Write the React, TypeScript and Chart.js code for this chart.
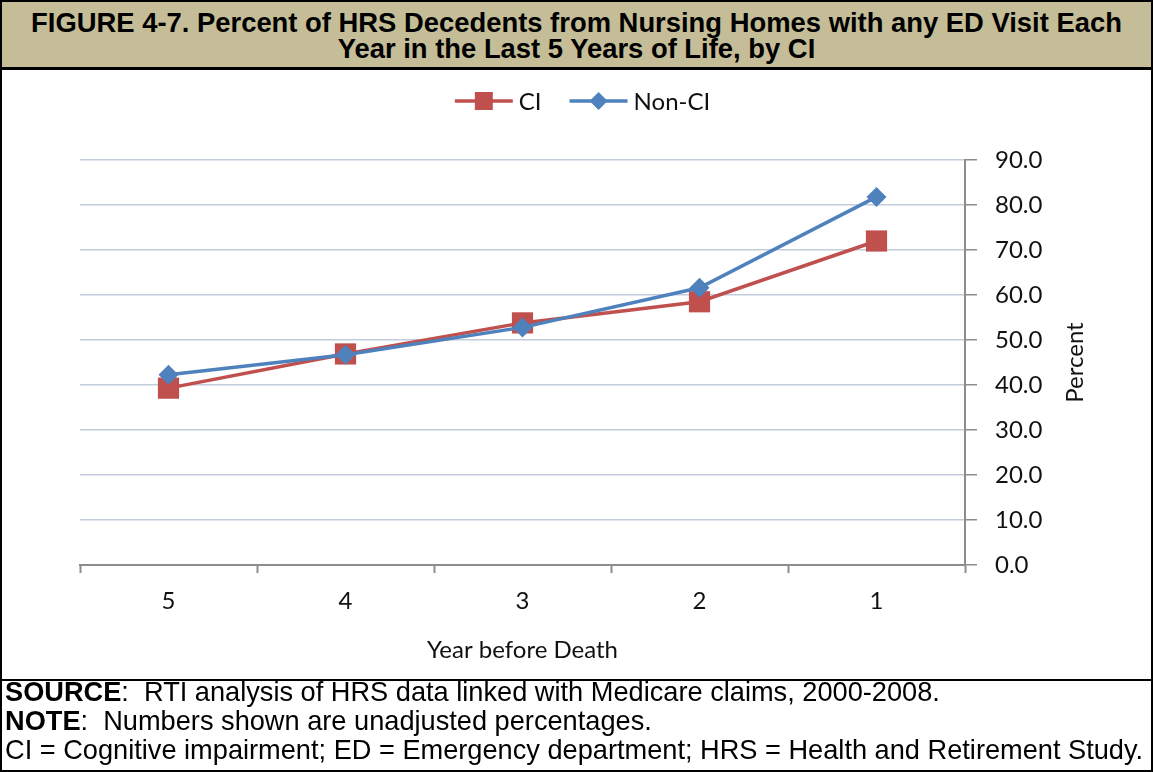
import React, { useEffect, useRef } from 'react';
import { Chart, registerables } from 'chart.js';

Chart.register(...registerables);

// ---- data ----
const categories = ['5', '4', '3', '2', '1'];
const ciValues = [39.3, 46.9, 53.8, 58.5, 72.0];
const nonCiValues = [42.3, 46.7, 52.8, 61.6, 81.8];
const seriesLabels = ['CI', 'Non-CI'];
const yMin = 0;
const yMax = 90;
const yStep = 10;
const xTitle = 'Year before Death';
const yTitle = 'Percent';
const titleLines = [
  'FIGURE 4-7. Percent of HRS Decedents from Nursing Homes with any ED Visit Each',
  'Year in the Last 5 Years of Life, by CI',
];
const footerBold = ['SOURCE', 'NOTE', ''];
const footerRest = [
  ':  RTI analysis of HRS data linked with Medicare claims, 2000-2008.',
  ':  Numbers shown are unadjusted percentages.',
  'CI = Cognitive impairment; ED = Emergency department; HRS = Health and Retirement Study.',
];

// ---- style ----
const RED = '#C0504D';
const BLUE = '#4F81BD';
const AXIS = '#8C8C8C';
const GRID = '#C3CCDD';
const TEXT = '#111111';
const FONT = 'Lato, "Open Sans", sans-serif';
const FSIZE = 24;
const CANVAS_W = 1149;
const CANVAS_H = 609;

const legendPlugin = {
  id: 'customLegend',
  afterDraw(chart: any) {
    const ctx = chart.ctx;
    ctx.save();
    ctx.font = `${FSIZE}px ${FONT}`;
    const lineLen = 58;
    const gap = 6;
    const itemGap = 28;
    const items = chart.data.datasets.map((ds: any) => ({
      label: ds.label,
      color: ds.borderColor,
      style: ds.pointStyle,
      w: lineLen + gap + ctx.measureText(ds.label).width,
    }));
    const total = items.reduce((a: number, it: any) => a + it.w, 0) + itemGap * (items.length - 1);
    let x = chart.width / 2 - total / 2 + 6;
    const y = 31;
    items.forEach((it: any) => {
      ctx.strokeStyle = it.color;
      ctx.fillStyle = it.color;
      ctx.lineWidth = 3.5;
      ctx.beginPath();
      ctx.moveTo(x, y);
      ctx.lineTo(x + lineLen, y);
      ctx.stroke();
      const cx = x + lineLen / 2;
      ctx.beginPath();
      if (it.style === 'rect') {
        ctx.rect(cx - 9, y - 9, 18, 18);
      } else {
        ctx.moveTo(cx, y - 9);
        ctx.lineTo(cx + 9, y);
        ctx.lineTo(cx, y + 9);
        ctx.lineTo(cx - 9, y);
        ctx.closePath();
      }
      ctx.fill();
      ctx.fillStyle = TEXT;
      ctx.textBaseline = 'middle';
      ctx.textAlign = 'left';
      ctx.fillText(it.label, x + lineLen + gap, y + 1);
      x += it.w + itemGap;
    });
    ctx.restore();
  },
};

const yTitlePlugin = {
  id: 'yTitleLeftReading',
  afterDraw(chart: any) {
    const ctx = chart.ctx;
    const area = chart.chartArea;
    ctx.save();
    ctx.font = `${FSIZE}px ${FONT}`;
    ctx.fillStyle = TEXT;
    ctx.translate(1073, (area.top + area.bottom) / 2);
    ctx.rotate(-Math.PI / 2);
    ctx.textAlign = 'center';
    ctx.textBaseline = 'middle';
    ctx.fillText(yTitle, 0, 0);
    ctx.restore();
  },
};

function LineChart() {
  const ref = useRef<HTMLCanvasElement | null>(null);
  useEffect(() => {
    if (!ref.current) return;
    const font = { family: FONT, size: FSIZE };
    const chart = new Chart(ref.current, {
      type: 'line',
      data: {
        labels: categories,
        datasets: [
          {
            label: seriesLabels[0],
            data: ciValues,
            borderColor: RED,
            backgroundColor: RED,
            pointBackgroundColor: RED,
            pointStyle: 'rect',
            pointRadius: 15,
            pointHoverRadius: 15,
            pointBorderWidth: 0,
            borderWidth: 3.5,
            tension: 0,
            order: 2,
          },
          {
            label: seriesLabels[1],
            data: nonCiValues,
            borderColor: BLUE,
            backgroundColor: BLUE,
            pointBackgroundColor: BLUE,
            pointStyle: 'rectRot',
            pointRadius: 10,
            pointHoverRadius: 10,
            pointBorderWidth: 0,
            borderWidth: 3.5,
            tension: 0,
            order: 1,
          },
        ],
      },
      options: {
        animation: false,
        responsive: false,
        maintainAspectRatio: false,
        layout: { padding: { left: 78, top: 90, right: 0, bottom: 0 } },
        plugins: {
          legend: { display: false },
          tooltip: { enabled: false },
          title: { display: false },
        },
        scales: {
          x: {
            type: 'category',
            offset: true,
            grid: {
              display: true,
              offset: true,
              drawOnChartArea: false,
              drawTicks: true,
              tickLength: 8,
              tickColor: AXIS,
              tickWidth: 2,
            },
            border: { display: true, color: AXIS, width: 2 },
            ticks: { font, color: TEXT, padding: 14 },
            title: {
              display: true,
              text: xTitle,
              font,
              color: TEXT,
              padding: { top: 0, bottom: 14 },
            },
            afterFit: (s: any) => {
              s.height = 114;
            },
          },
          y: {
            position: 'right',
            min: yMin,
            max: yMax,
            ticks: {
              stepSize: yStep,
              font,
              color: TEXT,
              padding: 18,
              callback: (v: any) => Number(v).toFixed(1),
            },
            grid: {
              color: GRID,
              lineWidth: 1.5,
              drawTicks: true,
              tickLength: 12,
              tickColor: AXIS,
              tickWidth: 1.5,
            },
            border: { display: true, color: AXIS, width: 2 },
            afterFit: (s: any) => {
              s.width = 186;
            },
          },
        },
      },
      plugins: [legendPlugin, yTitlePlugin],
    } as any);
    return () => chart.destroy();
  }, []);
  return (
    <canvas
      ref={ref}
      width={CANVAS_W}
      height={CANVAS_H}
      style={{ position: 'absolute', left: 2, top: 70, width: CANVAS_W, height: CANVAS_H }}
    />
  );
}

export default function App() {
  return (
    <div
      style={{
        position: 'fixed',
        left: 0,
        top: 0,
        width: 1153,
        height: 772,
        background: '#fff',
        overflow: 'hidden',
      }}
    >
      {/* outer border */}
      <div
        style={{
          position: 'absolute',
          left: 0,
          top: 0,
          width: 1153,
          height: 772,
          boxSizing: 'border-box',
          border: '2px solid #000',
        }}
      />
      {/* title band */}
      <div
        style={{
          position: 'absolute',
          left: 2,
          top: 2,
          width: 1149,
          height: 65,
          background: '#C4BD97',
          borderBottom: '3px solid #000',
        }}
      />
      <div
        style={{
          position: 'absolute',
          left: 2,
          top: 10,
          width: 1149,
          textAlign: 'center',
          fontFamily: '"Liberation Sans", Arial, sans-serif',
          fontWeight: 'bold',
          fontSize: 27.4,
          lineHeight: '26px',
          color: '#000',
          whiteSpace: 'nowrap',
        }}
      >
        {titleLines.map((t, i) => (
          <div key={i}>{t}</div>
        ))}
      </div>
      <LineChart />
      {/* footer separator */}
      <div
        style={{ position: 'absolute', left: 0, top: 679, width: 1153, height: 2, background: '#000' }}
      />
      <div
        style={{
          position: 'absolute',
          left: 5,
          top: 677,
          fontFamily: '"Liberation Sans", Arial, sans-serif',
          fontSize: 27.2,
          lineHeight: '29px',
          color: '#000',
          whiteSpace: 'pre',
        }}
      >
        {footerRest.map((t, i) => (
          <div key={i}>
            {footerBold[i] ? <b>{footerBold[i]}</b> : null}
            {t}
          </div>
        ))}
      </div>
    </div>
  );
}
